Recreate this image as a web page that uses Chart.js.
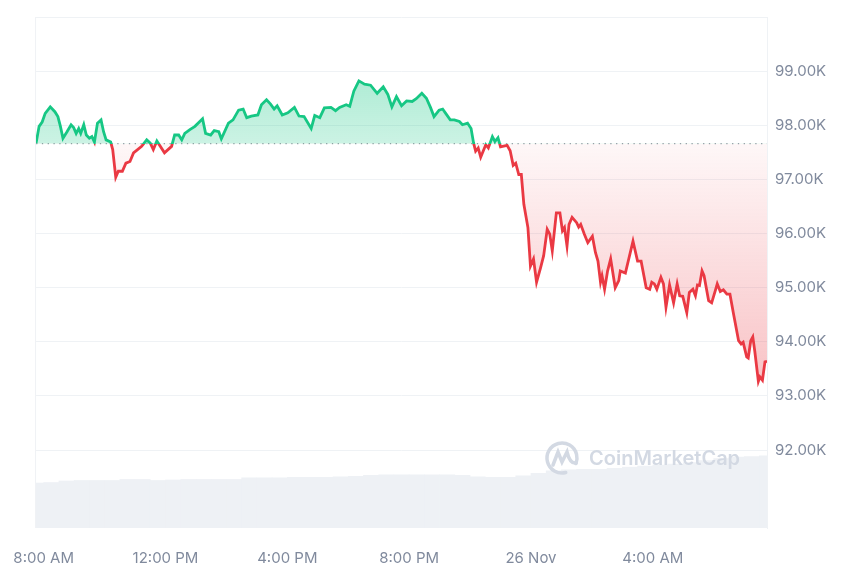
<!DOCTYPE html>
<html>
<head>
<meta charset="utf-8">
<script src="https://cdn.jsdelivr.net/npm/chart.js@4"></script>
<style>
  html, body { margin: 0; padding: 0; background: #fff; }
  #wrap { width: 860px; height: 573px; }
</style>
</head>
<body>
<div id="wrap"><canvas id="priceChart" width="860" height="573"></canvas></div>
<script>
// minutes after 7:45 AM, 25 Nov
const times = [0,6,12,18,28,37,43,48,53,61,69,74,79,84,88,94,99,105,110,115,121,128,133,138,147,151,157,162,170,177,
  185,192,200,208,218,225,231,238,253,267,273,281,287,293,303,313,328,334,344,351,360,365,379,388,399,408,415,424,437,444,
  454,462,469,475,485,496,509,518,528,542,549,559,568,581,590,598,611,618,626,636,647,659,672,684,693,701,710,720,730,741,
  749,760,769,777,784,794,801,807,816,824,834,840,850,857,862,866,871,876,886,891,899,904,910,915,928,934,940,945,951,956,
  961,969,974,980,986,994,1000,1007,1012,1017,1025,1032,1037,1041,1046,1050,1056,1065,1069,1073,1080,1087,1096,1102,1107,1112,1115,1120,1126,1132,
  1141,1148,1151,1161,1176,1185,1192,1202,1209,1213,1218,1223,1231,1236,1241,1248,1256,1263,1268,1274,1282,1287,1294,1299,1303,1307,1312,1316,1325,1331,
  1338,1342,1348,1354,1361,1367,1374,1384,1389,1393,1400,1403,1408,1412,1416,1423,1426,1431,1436,1440];

// BTC price (USD)
const prices = [97670,97980,98060,98220,98340,98250,98160,97980,97760,97880,98010,97960,97850,97940,97850,98010,97820,97760,97790,97690,
  98040,98100,97880,97730,97690,97550,97040,97150,97150,97300,97330,97490,97550,97610,97730,97670,97550,97710,97490,97610,
  97820,97820,97730,97850,97920,97980,98120,97850,97820,97900,97880,97750,98040,98100,98280,98300,98140,98170,98190,98380,
  98470,98390,98300,98360,98190,98230,98330,98170,98160,97940,98180,98140,98320,98330,98270,98330,98380,98350,98630,98820,
  98760,98740,98590,98710,98570,98340,98530,98360,98450,98440,98490,98590,98500,98330,98160,98280,98300,98220,98100,98100,
  98070,98010,98040,97940,97670,97520,97580,97410,97640,97580,97790,97700,97770,97600,97630,97530,97260,97300,97090,97090,
  96540,96110,95400,95530,95100,95370,95590,96080,95990,95680,96380,96380,96050,96110,95770,96170,96300,96200,96120,96170,
  95990,95830,95950,95650,95490,95100,95220,94970,95310,95530,95000,95130,95310,95270,95860,95490,95490,95000,94970,95100,
  95070,94970,95190,95070,94640,95050,94720,95070,94850,94840,94540,94910,94970,94850,95050,95040,95310,95220,94760,94720,
  94940,95070,94930,94960,94880,94880,94520,94020,93960,93990,93720,93700,94020,94090,93820,93270,93350,93290,93630,93640];

const openPrice = 97660;

// relative 24h volume, one value per 30 min
const volume = [8.8,8.9,9.2,9.3,9.3,9.3,9.5,9.5,9.3,9.4,9.5,9.5,9.5,9.5,9.8,9.8,9.8,9.9,9.9,9.9,
  10.0,10.1,10.3,10.4,10.4,10.4,10.4,10.4,10.3,10.0,9.9,9.9,10.2,10.7,11.2,11.4,11.5,11.5,11.7,11.9,
  12.1,12.3,12.5,12.8,13.2,13.6,13.9,14.0,14.1];
const volTimes = volume.map((v, i) => i * 30);

const xTicks = [15, 255, 495, 735, 975, 1215];
const xLabels = ['8:00 AM', '12:00 PM', '4:00 PM', '8:00 PM', '26 Nov', '4:00 AM'];
const yTicks = [92000, 93000, 94000, 95000, 96000, 97000, 98000, 99000, 100000];

const green = '#16c784';
const red = '#ea3943';
const gridColor = '#eff2f5';
const labelColor = '#808a9d';

// thin left edge of the plot
const edgePlugin = {
  id: 'edge',
  beforeDatasetsDraw(chart) {
    const { ctx, chartArea } = chart;
    ctx.save();
    ctx.strokeStyle = gridColor;
    ctx.lineWidth = 1;
    ctx.beginPath();
    ctx.moveTo(chartArea.left - 0.5, chartArea.top);
    ctx.lineTo(chartArea.left - 0.5, chartArea.bottom);
    ctx.stroke();
    ctx.restore();
  }
};

// CoinMarketCap watermark
const watermarkPlugin = {
  id: 'watermark',
  afterDatasetsDraw(chart) {
    const { ctx, chartArea } = chart;
    const cx = chartArea.right - 205, cy = chartArea.bottom - 70;
    ctx.save();
    ctx.strokeStyle = '#d3d9e3';
    ctx.lineWidth = 3.5;
    ctx.lineCap = 'round';
    ctx.beginPath();
    ctx.arc(cx, cy, 15, 0.42 * Math.PI, 2.12 * Math.PI);
    ctx.stroke();
    ctx.beginPath();
    ctx.moveTo(cx - 9, cy + 7);
    ctx.lineTo(cx - 4, cy - 6);
    ctx.lineTo(cx, cy + 4);
    ctx.lineTo(cx + 5, cy - 6);
    ctx.quadraticCurveTo(cx + 8, cy + 6, cx + 14, cy + 5);
    ctx.stroke();
    ctx.fillStyle = '#d3d9e3';
    ctx.font = '600 20px Inter, sans-serif';
    ctx.textBaseline = 'alphabetic';
    ctx.textAlign = 'left';
    ctx.fillText('CoinMarketCap', cx + 27, cy + 7);
    ctx.restore();
  }
};

const ctx = document.getElementById('priceChart').getContext('2d');
const chart = new Chart(ctx, {
  data: {
    datasets: [
      {
        type: 'line',
        label: 'Price',
        data: times.map((t, i) => ({ x: t, y: prices[i] })),
        borderColor: green,
        borderWidth: 2.8,
        pointRadius: 0,
        tension: 0,
        fill: { target: { value: openPrice }, above: 'rgba(22,199,132,0.3)', below: 'rgba(234,57,67,0.1)' },
        yAxisID: 'y',
        order: 0
      },
      {
        type: 'line',
        label: 'Open',
        data: [{ x: 0, y: openPrice }, { x: 1440, y: openPrice }],
        borderColor: '#9a9fa8',
        borderWidth: 1.3,
        borderDash: [1.3, 4.5],
        pointRadius: 0,
        fill: false,
        yAxisID: 'y',
        order: 1
      },
      {
        type: 'bar',
        label: 'Volume',
        data: volTimes.map((t, i) => ({ x: t, y: volume[i] })),
        backgroundColor: '#eef1f5',
        barPercentage: 1,
        categoryPercentage: 1,
        yAxisID: 'yv',
        order: 3
      }
    ]
  },
  options: {
    responsive: false,
    animation: false,
    layout: { padding: { top: 14, left: 34, right: 0, bottom: 0 } },
    plugins: { legend: { display: false }, tooltip: { enabled: false } },
    scales: {
      x: {
        type: 'linear',
        min: 0,
        max: 1440,
        offset: false,
        afterBuildTicks: axis => { axis.ticks = xTicks.map(v => ({ value: v })); },
        afterFit: axis => { axis.height = 45; },
        grid: { display: false, offset: false },
        border: { display: false },
        ticks: {
          autoSkip: false,
          maxRotation: 0,
          padding: 13,
          color: labelColor,
          font: { family: 'Inter, sans-serif', size: 15 },
          callback: v => xLabels[xTicks.indexOf(v)]
        }
      },
      y: {
        position: 'right',
        min: 90560,
        max: 100000,
        afterBuildTicks: axis => { axis.ticks = yTicks.map(v => ({ value: v })); },
        afterFit: axis => { axis.width = 93; },
        grid: { color: gridColor, lineWidth: 1, drawTicks: false },
        border: { display: true, color: gridColor },
        ticks: {
          padding: 8,
          color: labelColor,
          font: { family: 'Inter, sans-serif', size: 15 },
          callback: v => v >= 100000 ? '' : (v / 1000).toFixed(2) + 'K'
        }
      },
      yv: {
        display: false,
        min: 0,
        max: 100
      }
    }
  },
  plugins: [edgePlugin, watermarkPlugin]
});

// gradients need the laid-out chart area
const area = chart.chartArea;
const yScale = chart.scales.y;
const basePx = yScale.getPixelForValue(openPrice);
const highPx = yScale.getPixelForValue(Math.max(...prices));
const lowPx = yScale.getPixelForValue(Math.min(...prices));
const cut = (basePx - area.top) / (area.bottom - area.top);

const lineGrad = ctx.createLinearGradient(0, area.top, 0, area.bottom);
lineGrad.addColorStop(0, green);
lineGrad.addColorStop(cut, green);
lineGrad.addColorStop(cut, red);
lineGrad.addColorStop(1, red);

const upFill = ctx.createLinearGradient(0, highPx, 0, basePx);
upFill.addColorStop(0, 'rgba(22,199,132,0.34)');
upFill.addColorStop(1, 'rgba(22,199,132,0.22)');

const downFill = ctx.createLinearGradient(0, basePx, 0, lowPx);
downFill.addColorStop(0, 'rgba(234,57,67,0.04)');
downFill.addColorStop(1, 'rgba(234,57,67,0.3)');

const priceSet = chart.data.datasets[0];
priceSet.borderColor = lineGrad;
priceSet.fill = { target: { value: openPrice }, above: upFill, below: downFill };
chart.update('none');
</script>
</body>
</html>
